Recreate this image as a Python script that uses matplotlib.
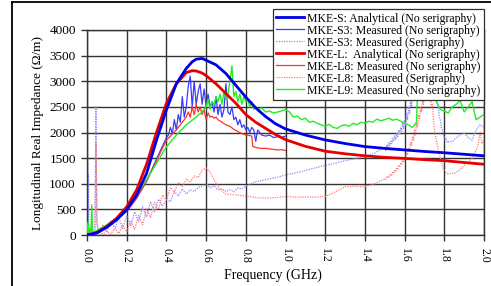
import numpy as np
import matplotlib
matplotlib.use("Agg")
import matplotlib.pyplot as plt
from matplotlib.lines import Line2D

# ---------------- data ----------------
f_an = [0.00, 0.05, 0.10, 0.15, 0.20, 0.25, 0.30, 0.35, 0.40, 0.45,
        0.50, 0.53, 0.55, 0.58, 0.60, 0.65, 0.70, 0.75, 0.80, 0.85,
        0.90, 0.95, 1.00, 1.10, 1.20, 1.30, 1.40, 1.50, 1.60, 1.70,
        1.80, 1.90, 2.00]
mke_s_an = [0, 40, 150, 300, 490, 780, 1200, 1850, 2440, 2950,
            3250, 3380, 3430, 3445, 3410, 3320, 3150, 2920, 2690, 2480,
            2310, 2170, 2070, 1950, 1855, 1785, 1725, 1690, 1660, 1630,
            1605, 1575, 1545]
mke_l_an = [0, 50, 170, 330, 550, 880, 1380, 2000, 2570, 2950,
            3170, 3206, 3200, 3160, 3110, 2950, 2760, 2570, 2350, 2200,
            2080, 1960, 1860, 1730, 1635, 1585, 1545, 1515, 1495, 1470,
            1450, 1415, 1380]

f_s3 = [0.00, 0.02, 0.05, 0.10, 0.15, 0.20, 0.25, 0.30, 0.35, 0.40,
        0.41, 0.42, 0.43, 0.44, 0.45, 0.46, 0.47, 0.48, 0.49, 0.50,
        0.51, 0.52, 0.53, 0.54, 0.55, 0.56, 0.57, 0.58, 0.59, 0.60,
        0.61, 0.62, 0.63, 0.64, 0.65, 0.66, 0.67, 0.68, 0.69, 0.70,
        0.71, 0.72, 0.73, 0.74, 0.75, 0.76, 0.77, 0.78, 0.79, 0.80,
        0.81, 0.82, 0.83, 0.84, 0.85, 0.86, 0.88, 0.90, 0.92, 0.94,
        0.96, 0.98, 1.00]
mke_s3 = [0, 20, 60, 180, 320, 460, 720, 1050, 1480, 1900,
          1950, 2100, 1980, 2250, 2050, 2350, 2200, 2700, 2300, 2500,
          2900, 3100, 2500, 3000, 2550, 2800, 2950, 2550, 2850, 2500,
          2750, 2500, 2600, 2400, 2700, 2350, 2550, 2300, 2450, 2950,
          2400, 2350, 2500, 2250, 2300, 2150, 2250, 2100, 2150, 2050,
          2100, 2000, 2100, 2050, 1830, 2050, 1950, 1930, 1950, 1900,
          1920, 1900, 1930]

f_l8 = [0.00, 0.02, 0.05, 0.10, 0.15, 0.20, 0.25, 0.30, 0.35, 0.40,
        0.45, 0.48, 0.50, 0.51, 0.52, 0.53, 0.54, 0.55, 0.56, 0.57,
        0.58, 0.59, 0.60, 0.61, 0.62, 0.63, 0.64, 0.65, 0.66, 0.68,
        0.70, 0.72, 0.74, 0.76, 0.78, 0.80, 0.82, 0.83, 0.835, 0.84,
        0.86, 0.88, 0.90, 0.92, 0.94, 0.96, 0.98, 1.00]
mke_l8 = [0, 10, 40, 160, 320, 470, 720, 1050, 1450, 1850,
          2050, 2200, 2300, 2400, 2300, 2500, 2350, 2550, 2400, 2500,
          2350, 2450, 2250, 2380, 2300, 2320, 2280, 2300, 2250, 2200,
          2150, 2120, 2060, 2020, 1980, 1950, 1940, 1930, 1730, 1720,
          1700, 1690, 1690, 1680, 1670, 1660, 1665, 1650]

f_l9 = [0.000, 0.005, 0.010, 0.015, 0.020, 0.024, 0.028, 0.035, 0.05, 0.10,
        0.15, 0.20, 0.25, 0.30, 0.35, 0.40, 0.45, 0.50, 0.55, 0.58,
        0.60, 0.61, 0.62, 0.63, 0.64, 0.65, 0.66, 0.67, 0.68, 0.69,
        0.70, 0.71, 0.72, 0.73, 0.74, 0.75, 0.76, 0.77, 0.78, 0.79,
        0.80, 0.81, 0.82, 0.83, 0.84, 0.85, 0.86, 0.88, 0.90, 0.92,
        0.94, 0.96, 0.98, 1.00, 1.02, 1.04, 1.06, 1.08, 1.10, 1.12,
        1.14, 1.16, 1.18, 1.20, 1.22, 1.24, 1.26, 1.28, 1.30, 1.32,
        1.34, 1.36, 1.38, 1.40, 1.42, 1.44, 1.46, 1.48, 1.50, 1.52,
        1.54, 1.56, 1.58, 1.60, 1.62, 1.64, 1.66, 1.68, 1.70, 1.72,
        1.74, 1.76, 1.78, 1.80, 1.82, 1.84, 1.86, 1.88, 1.90, 1.92,
        1.94, 1.96, 1.98, 2.00]
mke_l9 = [0, 250, 40, 120, 60, 585, 40, 60, 90, 200,
          330, 480, 780, 1080, 1400, 1720, 1950, 2150, 2300, 2400,
          2500, 2650, 2450, 2600, 2550, 2700, 2600, 2750, 2550, 2800,
          2650, 2750, 3000, 3300, 2700, 2800, 2600, 2750, 2550, 2700,
          2600, 2650, 2500, 2600, 2450, 2500, 2450, 2480, 2400, 2420,
          2380, 2400, 2420, 2450, 2400, 2300, 2320, 2250, 2280, 2200,
          2220, 2180, 2150, 2120, 2160, 2100, 2080, 2130, 2150, 2120,
          2180, 2150, 2200, 2180, 2220, 2200, 2260, 2230, 2250, 2280,
          2240, 2260, 2220, 2180, 2150, 2100, 2200, 4500, 4500, 4500,
          4500, 2600, 2450, 2420, 2380, 2500, 2550, 2620, 2400, 2500,
          2600, 2250, 2300, 2350]

f_s3_seri = [0.000, 0.003, 0.005, 0.007, 0.010, 0.020, 0.030, 0.040, 0.045, 0.050,
             0.060, 0.080, 0.100, 0.120, 0.140, 0.160, 0.180, 0.200, 0.220, 0.240,
             0.260, 0.280, 0.300, 0.320, 0.340, 0.360, 0.380, 0.400, 0.420, 0.440,
             0.460, 0.480, 0.500, 0.520, 0.540, 0.560, 0.580, 0.600, 0.620, 0.640,
             0.660, 0.680, 0.700, 0.720, 0.740, 0.760, 0.780, 0.800, 0.850, 0.900,
             0.950, 1.000, 1.050, 1.100, 1.150, 1.200, 1.250, 1.300, 1.350, 1.400,
             1.450, 1.500,
             1.505, 1.510, 1.515, 1.520, 1.525, 1.530, 1.535, 1.540, 1.545, 1.550,
             1.555, 1.560, 1.565, 1.570, 1.575, 1.580, 1.585, 1.590, 1.595, 1.600,
             1.605, 1.610, 1.615, 1.620, 1.625, 1.630, 1.635, 1.640, 1.645, 1.650,
             1.655, 1.660, 1.665, 1.670, 1.675, 1.680, 1.685, 1.690, 1.695, 1.700,
             1.705, 1.710, 1.715, 1.720, 1.725, 1.730, 1.735, 1.740, 1.745, 1.750,
             1.755, 1.760, 1.765, 1.770, 1.775, 1.780, 1.785, 1.790, 1.795, 1.800,
             1.805, 1.810, 1.815, 1.820,
             1.840, 1.860, 1.880, 1.900, 1.920, 1.940, 1.960, 1.980, 2.000]
mke_s3_seri = [0, 1400, 100, 1200, 30, 100, 50, 150, 2500, 200,
               60, 200, 60, 280, 120, 330, 130, 380, 180, 450,
               260, 550, 350, 650, 450, 700, 560, 690, 650, 850,
               760, 900, 800, 880, 850, 930, 950, 1010, 920, 960,
               880, 900, 850, 880, 840, 920, 900, 950, 1040, 1080,
               1120, 1170, 1210, 1260, 1310, 1360, 1400, 1450, 1490, 1530,
               1600, 1720,
               1650, 1760, 1700, 1800, 1740, 1830, 1780, 1880, 1820, 1930,
               1860, 1980, 1900, 2050, 1960, 2100, 2020, 2200, 2080, 2250,
               2150, 2380, 2250, 2500, 2350, 2650, 2500, 2800, 2650, 3000,
               2800, 3250, 3050, 3550, 3300, 3900, 3600, 4300, 4000, 4500,
               4400, 4500, 4500, 4500, 4500, 4500, 4200, 4500, 4000, 3300,
               2900, 3000, 2600, 2500, 2300, 2250, 2100, 2050, 1950, 1900,
               1850, 1870, 1800, 1820,
               1820, 1900, 1950, 2000, 1900, 1850, 2050, 2150, 2100]

f_l8_seri = [0.000, 0.010, 0.020, 0.030, 0.040, 0.045, 0.050, 0.060, 0.080, 0.100,
             0.120, 0.140, 0.160, 0.180, 0.200, 0.220, 0.240, 0.260, 0.280, 0.300,
             0.320, 0.340, 0.360, 0.380, 0.400, 0.420, 0.440, 0.460, 0.480, 0.500,
             0.520, 0.540, 0.560, 0.580, 0.600, 0.620, 0.640, 0.660, 0.680, 0.700,
             0.750, 0.800, 0.850, 0.900, 0.950, 1.000, 1.050, 1.100, 1.150, 1.200,
             1.250, 1.300, 1.350, 1.400, 1.450, 1.500,
             1.505, 1.510, 1.515, 1.520, 1.525, 1.530, 1.535, 1.540, 1.545, 1.550,
             1.555, 1.560, 1.565, 1.570, 1.575, 1.580, 1.585, 1.590, 1.595, 1.600,
             1.605, 1.610, 1.615, 1.620, 1.625, 1.630, 1.635, 1.640, 1.645, 1.650,
             1.655, 1.660, 1.665, 1.670, 1.675, 1.680, 1.685, 1.690, 1.695, 1.700,
             1.705, 1.710, 1.715, 1.720, 1.725, 1.730, 1.735, 1.740, 1.745, 1.750,
             1.755, 1.760, 1.765, 1.770, 1.775, 1.780, 1.785, 1.790, 1.795, 1.800,
             1.805, 1.810, 1.815, 1.820,
             1.840, 1.860, 1.880, 1.900, 1.920, 1.940, 1.960, 1.970, 1.980, 1.990,
             2.000]
mke_l8_seri = [0, 40, 20, 80, 30, 1800, 250, 60, 20, 70,
               20, 130, 30, 200, 60, 280, 110, 380, 200, 520,
               340, 640, 500, 780, 680, 930, 830, 1030, 940, 1090,
               1040, 1150, 1120, 1270, 1310, 1230, 1080, 950, 860, 800,
               780, 760, 730, 720, 730, 750, 740, 740, 740, 750,
               840, 940, 950, 940, 1000, 1100,
               1080, 1130, 1110, 1160, 1140, 1190, 1170, 1220, 1200, 1260,
               1230, 1300, 1280, 1350, 1330, 1400, 1380, 1460, 1430, 1520,
               1500, 1600, 1560, 1700, 1650, 1800, 1750, 1920, 1850, 2050,
               1950, 2200, 2100, 2350, 2250, 2500, 2400, 2650, 2550, 2750,
               2650, 2850, 2700, 2900, 2650, 2800, 2500, 2550, 2250, 2100,
               1950, 1850, 1750, 1650, 1600, 1500, 1450, 1350, 1300, 1250,
               1230, 1210, 1200, 1190,
               1200, 1220, 1280, 1360, 1420, 1500, 1650, 1750, 2000, 1780,
               1850]

labels = ["MKE-S: Analytical (No serigraphy)",
          "MKE-S3: Measured (No serigraphy)",
          "MKE-S3: Measured (Serigraphy)",
          "MKE-L:  Analytical (No serigraphy)",
          "MKE-L8: Measured (No serigraphy)",
          "MKE-L8: Measured (Serigraphy)",
          "MKE-L9: Measured (No serigraphy)"]
x_ticks = [0.0, 0.2, 0.4, 0.6, 0.8, 1.0, 1.2, 1.4, 1.6, 1.8, 2.0]
y_ticks = [0, 500, 1000, 1500, 2000, 2500, 3000, 3500, 4000]

# ---------------- plot ----------------
plt.rcParams['font.family'] = ['Liberation Serif', 'DejaVu Serif']
W, H = 491, 286
fig = plt.figure(figsize=(W / 100, H / 100), dpi=100)
ax = fig.add_axes([87 / W, (H - 235) / H, 397 / W, 205 / H])

c_s_an = '#0000e6'
c_s3 = '#3a3aff'
c_s3s = '#8c8cff'
c_l_an = '#e60000'
c_l8 = '#ff3030'
c_l8s = '#ff7a7a'
c_l9 = '#22ee22'

h3, = ax.plot(f_s3_seri, mke_s3_seri, color=c_s3s, lw=0.9, ls=(0, (1, 1)), zorder=2)
h6, = ax.plot(f_l8_seri, mke_l8_seri, color=c_l8s, lw=0.9, ls=(0, (1, 1)), zorder=2)
h2, = ax.plot(f_s3, mke_s3, color=c_s3, lw=0.9, zorder=3)
h5, = ax.plot(f_l8, mke_l8, color=c_l8, lw=0.9, zorder=3)
h7, = ax.plot(f_l9, mke_l9, color=c_l9, lw=1.0, zorder=3)
h4, = ax.plot(f_an, mke_l_an, color=c_l_an, lw=2.0, zorder=4)
h1, = ax.plot(f_an, mke_s_an, color=c_s_an, lw=2.0, zorder=4)

ax.set_xlim(0, 2.0)
ax.set_ylim(0, 4000)
ax.set_xticks(x_ticks)
ax.set_xticklabels([f"{v:.1f}" for v in x_ticks], rotation=270)
ax.set_yticks(y_ticks)
ax.set_yticklabels([str(v) for v in y_ticks])
ax.grid(True, color='#333333', lw=1.0)
ax.set_axisbelow(True)
for s in ax.spines.values():
    s.set_color('#333333')
    s.set_linewidth(1.0)
ax.tick_params(direction='out', length=4, width=1.0, color='#333333', pad=4)
ax.tick_params(axis='y', labelsize=9.5)
ax.tick_params(axis='x', labelsize=8.6, pad=5)
ax.set_xlabel("Frequency (GHz)", fontsize=10)
ax.xaxis.set_label_coords(0.468, -0.165)
ax.set_ylabel("Longitudinal Real Impedance (\u03a9/m)", fontsize=9.5, labelpad=4)

leg = ax.legend([h1, h2, h3, h4, h5, h6, h7], labels,
                loc='upper right', bbox_to_anchor=(1.0, 1.102),
                fontsize=8.5, frameon=True, fancybox=False, framealpha=1,
                edgecolor='#303030', labelspacing=0.0, handlelength=2.3,
                handletextpad=0.3, borderpad=0.3, borderaxespad=0.0)
leg.get_frame().set_linewidth(0.9)
leg.set_zorder(10)

# figure border (partially visible frame of the original figure)
fig.add_artist(Line2D([12 / W, 12 / W], [0, 1 - 2 / H], color='black', lw=1.3,
                      transform=fig.transFigure))
fig.add_artist(Line2D([12 / W, 1], [1 - 2 / H, 1 - 2 / H], color='black', lw=1.3,
                      transform=fig.transFigure))

fig.savefig("out.png", dpi=100)
